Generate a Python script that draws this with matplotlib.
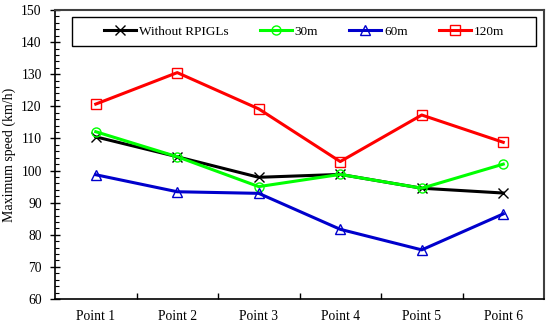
import matplotlib
matplotlib.use("Agg")
import matplotlib.pyplot as plt
from matplotlib.ticker import MultipleLocator, FixedLocator
from matplotlib.patches import Rectangle

categories = ["Point 1", "Point 2", "Point 3", "Point 4", "Point 5", "Point 6"]
without = [110.5, 104.3, 97.9, 98.8, 94.5, 93.0]
m30 = [112.1, 104.3, 95.0, 98.8, 94.5, 102.0]
m60 = [98.7, 93.4, 92.9, 81.7, 75.3, 86.5]
m120 = [120.7, 130.5, 119.2, 102.8, 117.3, 108.8]

plt.rcParams['font.family'] = ['Liberation Serif', 'DejaVu Serif']

fig = plt.figure(figsize=(5.5, 3.24), dpi=100)
ax = fig.add_axes([55/550, 1-299/324, (544-55)/550, (299-10)/324])

x = list(range(1, len(categories)+1))
lw = 2.2
ms = 6.5
ax.plot(x, without, color='black', lw=lw, marker='x', ms=ms, mew=1.0, label='Without RPIGLs')
ax.plot(x, m30, color='#00ff00', lw=lw, marker='o', ms=ms, mfc='none', mew=1.0, label='30m')
ax.plot(x, m60, color='#0000cc', lw=lw, marker='^', ms=ms, mfc='none', mew=1.0, label='60m')
ax.plot(x, m120, color='#ff0000', lw=lw, marker='s', ms=ms, mfc='none', mew=1.0, label='120m')

ax.set_xlim(0.5, 6.5)
ax.set_ylim(60, 150)
ax.set_xticks(x)
ax.set_xticklabels(categories, fontsize=9.8)
ax.xaxis.set_minor_locator(FixedLocator([1.5, 2.5, 3.5, 4.5, 5.5]))
ax.tick_params(axis='x', which='major', length=0, pad=8)
ax.tick_params(axis='x', which='minor', direction='in', length=4, width=1)
ax.yaxis.set_major_locator(MultipleLocator(10))
ax.yaxis.set_minor_locator(MultipleLocator(2))
ax.tick_params(axis='y', which='major', direction='inout', length=7, width=1, labelsize=9.8, pad=6)
ax.tick_params(axis='y', which='minor', direction='in', length=3, width=0.8)
ax.set_ylabel('Maximum speed (km/h)', fontsize=10)

for s in ['left', 'bottom']:
    ax.spines[s].set_linewidth(1.2)
    ax.spines[s].set_color('black')
for s in ['top', 'right']:
    ax.spines[s].set_linewidth(1.5)
    ax.spines[s].set_color('#404040')

# legend frame box
x0, x1 = (72-55)/489, (536-55)/489
y0, y1 = (299-46)/289, (299-17)/289
ax.add_patch(Rectangle((x0, y0), x1-x0, y1-y0, transform=ax.transAxes,
                       facecolor='white', edgecolor='black', lw=1.0, zorder=5))
leg = ax.legend(loc='center', ncol=4, bbox_to_anchor=((x0+x1)/2, (y0+y1)/2), frameon=False,
                fontsize=9.5, handlelength=2.45, columnspacing=2.35,
                handletextpad=0.2)
leg.set_zorder(6)

fig.savefig('out.png', dpi=100)
